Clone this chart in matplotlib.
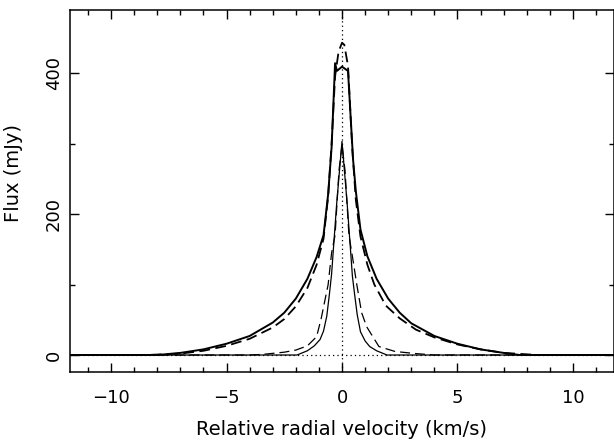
import matplotlib
matplotlib.use("Agg")
import matplotlib.pyplot as plt
from matplotlib.ticker import MultipleLocator

## broad line profile (solid)
broad_v = [-11.8, -8.0, -7.0, -6.0, -5.0, -4.0, -3.0, -2.5, -2.0, -1.5, -1.1, -0.8, -0.6,
           -0.45, -0.3, -0.22, 0.0, 0.26, 0.48, 0.6, 0.8, 1.1, 1.5, 2.0, 2.5, 3.0, 4.0,
           5.0, 6.0, 7.0, 7.7, 11.8]
broad_flux = [0, 0, 3, 8, 16, 27, 46, 60, 80, 108, 139, 170, 228,
              295, 414, 403, 409, 403, 277, 232, 178, 140, 108, 80, 60, 45, 27,
              16, 8, 3, 0, 0]

## broad model (dashed)
broad_mod_v = [-11.8, -8.5, -7.0, -6.0, -5.0, -4.0, -3.0, -2.5, -2.0, -1.5, -1.1, -0.8, -0.6,
               -0.45, -0.3, -0.15, 0.0, 0.1, 0.26, 0.45, 0.6, 0.8, 1.1, 1.4, 1.9, 2.5, 3.2,
               4.0, 5.0, 6.0, 7.0, 8.5, 11.8]
broad_mod_flux = [0, 0, 2, 6, 13, 23, 39, 51, 69, 95, 128, 165, 225,
                  300, 395, 430, 443, 440, 410, 290, 220, 168, 128, 100, 70, 52, 36,
                  25, 15, 8, 3, 0, 0]

## narrow line profile (solid)
narrow_v = [-11.8, -1.95, -1.5, -1.2, -0.95, -0.8, -0.66, -0.55, -0.45, -0.23, 0.0,
            0.23, 0.45, 0.55, 0.66, 0.8, 1.0, 1.2, 1.5, 1.95, 11.8]
narrow_flux = [0, 0, 6, 13, 22, 34, 55, 85, 115, 215, 303,
               212, 112, 85, 57, 33, 20, 12, 6, 0, 0]

## narrow model (dashed)
narrow_mod_v = [-11.8, -4.0, -3.4, -2.5, -2.0, -1.5, -1.1, -0.9, -0.6, -0.45, -0.3, -0.13, 0.0,
                0.13, 0.3, 0.45, 0.64, 0.85, 1.07, 1.6, 2.3, 3.2, 4.0, 11.8]
narrow_mod_flux = [0, 0, 1, 4, 7, 13, 26, 52, 100, 145, 170, 262, 298,
                   262, 170, 140, 100, 60, 40, 12, 5, 2, 0, 0]

plt.rcParams['font.family'] = ['DejaVu Sans']
fig = plt.figure(figsize=(6.14, 4.4), dpi=100)
ax = fig.add_axes([70/614, 1-372/440, 544/614, 362/440])

## reference lines
ax.axvline(0, color='black', lw=0.9, ls=(0, (1, 2.5)))
ax.axhline(0, color='black', lw=0.9, ls=(0, (1, 2.5)))

ax.plot(broad_v, broad_flux, color='black', lw=1.4)
ax.plot(broad_mod_v, broad_mod_flux, color='black', lw=1.3, dashes=(6, 3))
ax.plot(narrow_v, narrow_flux, color='black', lw=0.9)
ax.plot(narrow_mod_v, narrow_mod_flux, color='black', lw=0.9, dashes=(8, 4))

ax.set_xlim(-11.78, 11.78)
ax.set_ylim(-24.1, 489.4)

ax.xaxis.set_major_locator(MultipleLocator(5))
ax.xaxis.set_minor_locator(MultipleLocator(1))
ax.yaxis.set_major_locator(MultipleLocator(200))
ax.yaxis.set_minor_locator(MultipleLocator(100))

ax.tick_params(which='both', direction='in', top=True, right=True, width=1.0, labelsize=13)
ax.tick_params(which='major', length=6.5)
ax.tick_params(which='minor', length=3.6)
ax.tick_params(axis='x', pad=12)
ax.tick_params(axis='y', pad=5, labelrotation=90)
for lab in ax.get_yticklabels():
    lab.set_va('center')

for s in ax.spines.values():
    s.set_linewidth(1.1)

ax.set_xlabel("Relative radial velocity (km/s)", fontsize=14)
ax.set_ylabel("Flux (mJy)", fontsize=14)
ax.xaxis.set_label_coords(0.5, (372-420)/362)
ax.yaxis.set_label_coords((23-70)/544, (372-173)/362)

fig.savefig("out.png", dpi=100)
